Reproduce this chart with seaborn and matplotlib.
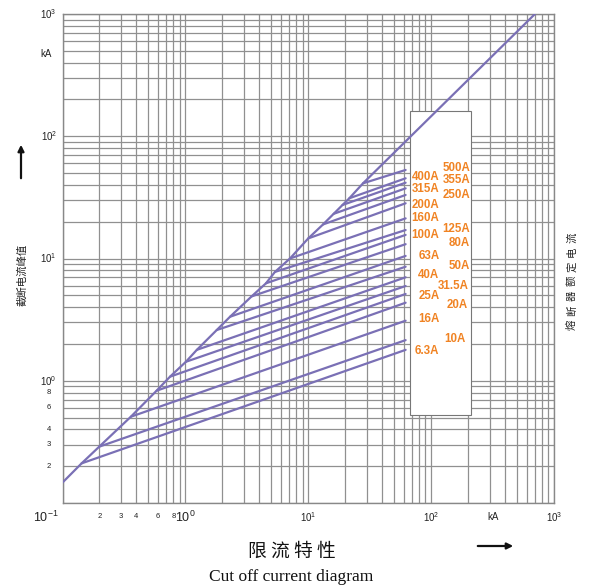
import numpy as np
import pandas as pd
import seaborn as sns
import matplotlib.pyplot as plt
from matplotlib.patches import Rectangle
from matplotlib.ticker import LogLocator, NullFormatter

# fuse rated currents and their cut-off lines (kA)
fuse_labels = ['6.3A', '10A', '16A', '20A', '25A', '31.5A', '40A', '50A', '63A', '80A',
               '100A', '125A', '160A', '200A', '250A', '315A', '355A', '400A', '500A']
knee_x = [0.143, 0.199, 0.360, 0.583, 0.750, 1.01, 1.24, 1.80, 2.31, 3.46,
          4.53, 5.36, 7.10, 10.0, 13.2, 16.1, 19.0, 21.6, 27.9]
knee_y = [0.211, 0.289, 0.508, 0.829, 1.08, 1.43, 1.79, 2.60, 3.34, 4.90,
          6.27, 7.77, 10.0, 14.6, 19.0, 23.2, 27.4, 31.1, 41.2]
end_x = 62.0
end_y = [1.79, 2.15, 3.10, 4.35, 5.13, 5.96, 7.02, 8.57, 10.5, 13.1,
         15.6, 17.1, 21.3, 28.3, 33.1, 37.5, 41.7, 45.3, 53.0]

# envelope (unlimited peak current) start / stop points
env_start = (0.1, 0.147)
env_stop = (700.0, 1000.0)

# label placement: (x right edge in kA, y in kA)
label_pos = {
    '500A': (207, 54.7), '400A': (117, 46.2), '355A': (207, 43.9), '315A': (117, 36.8),
    '250A': (207, 33.1), '200A': (117, 27.5), '160A': (117, 21.4), '125A': (207, 17.4),
    '100A': (117, 15.6), '80A': (207, 13.3), '63A': (117, 10.5), '50A': (207, 8.73),
    '40A': (117, 7.33), '31.5A': (204, 6.0), '25A': (117, 4.96), '20A': (197, 4.17),
    '16A': (117, 3.18), '10A': (190, 2.20), '6.3A': (117, 1.76),
}

rows = []
for lab, kx, ky, ey in zip(fuse_labels, knee_x, knee_y, end_y):
    rows.append((lab, kx, ky))
    rows.append((lab, end_x, ey))
env_x = [env_start[0]] + knee_x + [env_stop[0]]
env_y = [env_start[1]] + knee_y + [env_stop[1]]
for x, y in zip(env_x, env_y):
    rows.append(('envelope', x, y))
df = pd.DataFrame(rows, columns=['curve', 'current', 'peak'])

sns.set_style('white')
plt.rcParams['font.family'] = ['Liberation Sans', 'Noto Sans CJK SC', 'DejaVu Sans']
plt.rcParams['mathtext.default'] = 'regular'

line_col = '#7A70B5'
text_col = '#F08323'
grid_col = '#909090'

fig = plt.figure(figsize=(5.93, 5.86), dpi=100)
ax = fig.add_axes([0.1054, 0.1416, 0.8288, 0.8345])

fuse_df = df[df['curve'] != 'envelope']
env_df = df[df['curve'] == 'envelope']
sns.lineplot(data=fuse_df, x='current', y='peak', units='curve', estimator=None,
             sort=False, color=line_col, lw=1.6, ax=ax, zorder=3)
sns.lineplot(data=env_df, x='current', y='peak', estimator=None, sort=False,
             color=line_col, lw=1.6, ax=ax, zorder=5)

ax.set_xscale('log')
ax.set_yscale('log')
ax.set_xlim(0.1, 1000)
ax.set_ylim(0.1, 1000)
for axis in (ax.xaxis, ax.yaxis):
    axis.set_major_locator(LogLocator(base=10, numticks=20))
    axis.set_minor_locator(LogLocator(base=10, subs=np.arange(2, 10), numticks=20))
    axis.set_minor_formatter(NullFormatter())
ax.grid(which='both', color=grid_col, lw=0.9)
ax.tick_params(which='both', length=0, labelbottom=False, labelleft=False)
ax.set_xlabel('')
ax.set_ylabel('')
for s in ax.spines.values():
    s.set_color('#888888')
    s.set_linewidth(1.0)

# white legend box
ax.add_patch(Rectangle((67.3, 0.525), 211 - 67.3, 162 - 0.525, facecolor='white',
                       edgecolor='#777777', lw=0.8, zorder=4))
for lab in fuse_labels:
    x, y = label_pos[lab]
    ax.text(x, y, lab, color=text_col, fontsize=8.3, fontweight='bold',
            ha='right', va='center', zorder=6)

# axis tick labels
def xlab(val, txt, size, dx=0):
    ax.annotate(txt, xy=(val, 0), xycoords=('data', 'axes fraction'),
                xytext=(dx, -10), textcoords='offset points',
                ha='center', va='center', fontsize=size, color='#222222')

def ylab(val, txt, size, dx=-4, ha='right'):
    ax.annotate(txt, xy=(0, val), xycoords=('axes fraction', 'data'),
                xytext=(dx, 0), textcoords='offset points',
                ha=ha, va='center', fontsize=size, color='#222222')

xlab(0.1, '$10^{-1}$', 9, dx=-12)
for v in [2, 3, 4, 6, 8]:
    xlab(v / 10, str(v), 5.5)
xlab(1, '$10^{0}$', 9)
xlab(10, '$10^{1}$', 7)
xlab(100, '$10^{2}$', 7)
xlab(320, 'kA', 7)
xlab(1000, '$10^{3}$', 7)

for v in [2, 3, 4, 6, 8]:
    ylab(v / 10, str(v), 5.5, dx=-10, ha='center')
ylab(1, '$10^{0}$', 7)
ylab(10, '$10^{1}$', 7)
ylab(100, '$10^{2}$', 7)
ylab(1000, '$10^{3}$', 7)
ylab(470, 'kA', 7, dx=-12, ha='center')

# side and bottom texts
cjk = ['Noto Sans CJK SC', 'DejaVu Sans']
fig.text(22 / 593, 1 - 275 / 586, '截断电流峰值', rotation=90, ha='center', va='center',
         fontsize=7.5, family=cjk, color='#222222')
right_txt = '熔断器额定电流'
for i, ch in enumerate(right_txt):
    yy = 325 - i * 14.6
    fig.text(572 / 593, 1 - yy / 586, ch, rotation=90, ha='center', va='center',
             fontsize=7.5, family=cjk, color='#222222')
fig.text(292 / 593, 1 - 551 / 586, '限 流 特 性', ha='center', va='center',
         fontsize=13.5, family=cjk, color='#111111')
fig.text(291 / 593, 1 - 577 / 586, 'Cut off current diagram', ha='center', va='center',
         fontsize=12.5, family='Liberation Serif', color='#111111')

# arrows
ax.annotate('', xy=(21, 586 - 142), xytext=(21, 586 - 181), xycoords='figure pixels',
            textcoords='figure pixels',
            arrowprops=dict(arrowstyle='-|>', color='#111111', lw=1.6, mutation_scale=9))
ax.annotate('', xy=(516, 586 - 546), xytext=(475, 586 - 546), xycoords='figure pixels',
            textcoords='figure pixels',
            arrowprops=dict(arrowstyle='-|>', color='#111111', lw=1.6, mutation_scale=9))

fig.savefig('out.png', dpi=100)
